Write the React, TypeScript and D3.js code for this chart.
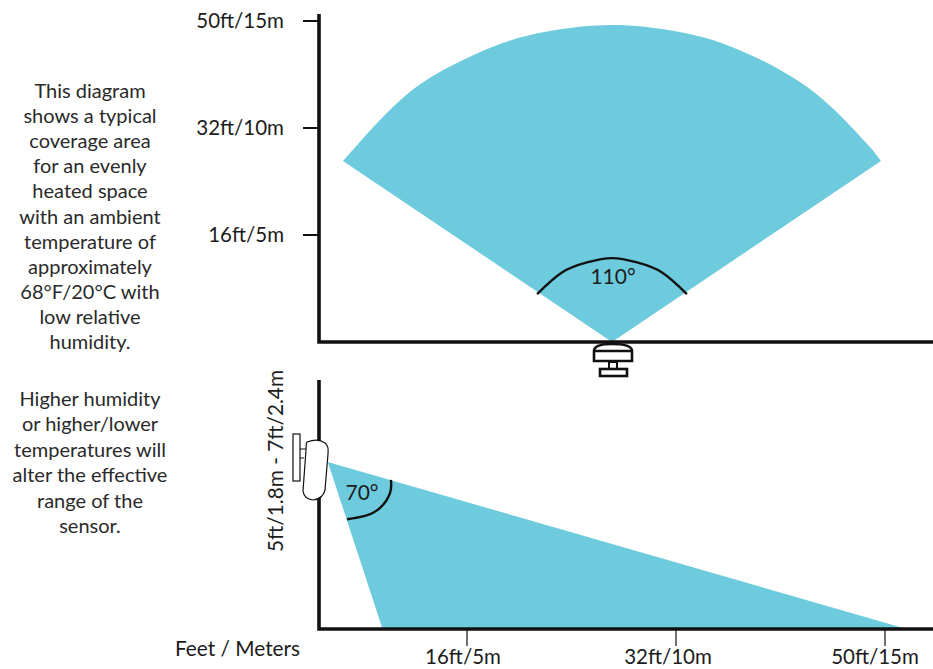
import React from "react";
import * as d3 from "d3";

const W = 933, H = 669;
const FONT = "Lato, 'Open Sans', sans-serif";
const INK = "#111111";
const TEXT = "#1c1c1c";
const FILL = "#6dcbdd";

const topTicks = [5, 10, 15];
const topTickLabels = ["16ft/5m", "32ft/10m", "50ft/15m"];
const coverageOutlineTop: [number, number][] = [
  [-12.57, 8.46], [-9.91, 11.29], [-7.57, 12.87], [-5.23, 13.93], [-2.9, 14.53], [0, 14.81],
  [2.9, 14.53], [5.23, 13.93], [7.57, 12.87], [9.91, 11.29], [12.2, 8.95],
];
const coverageCornerTop: [number, number] = [12.57, 8.46];
const topAngle = "110°";
const topArc: [number, number][] = [[-3.5, 2.24], [-2.34, 3.25], [-1.17, 3.72], [0, 3.92], [1.17, 3.72], [2.34, 3.25], [3.5, 2.24]];

const bottomTicks = [5, 10, 15];
const bottomTickLabels = ["16ft/5m", "32ft/10m", "50ft/15m"];
const bottomLabelShift = [-4, -8, -10];
const coverageSide: [number, number][] = [[1.67, 4.0], [15.52, 0], [2.98, 0]];
const sideAngle = "70°";
const sideArc: [number, number][] = [[3.18, 3.57], [3.16, 3.26], [2.92, 2.9], [2.56, 2.71], [2.13, 2.63]];
const sideHeightLabel = "5ft/1.8m - 7ft/2.4m";
const xUnitLabel = "Feet / Meters";

const noteOne = ["This diagram", "shows a typical", "coverage area", "for an evenly", "heated space", "with an ambient", "temperature of", "approximately", "68°F/20°C with", "low relative", "humidity."];
const noteTwo = ["Higher humidity", "or higher/lower", "temperatures will", "alter the effective", "range of the", "sensor."];

const xTop = d3.scaleLinear().domain([0, 15]).range([612, 612 + 321]);
const yTop = d3.scaleLinear().domain([0, 15]).range([342, 21]);
const xSide = d3.scaleLinear().domain([5, 15]).range([467, 885]);
const ySide = d3.scaleLinear().domain([0, 4]).range([629, 462]);

const lineTop = d3.line<[number, number]>().x(d => xTop(d[0])).y(d => yTop(d[1]));
const lineSide = d3.line<[number, number]>().x(d => xSide(d[0])).y(d => ySide(d[1]));

export default function App() {
  const topShape = "M" + xTop(0) + "," + yTop(0) + "L" +
    lineTop.curve(d3.curveNatural)(coverageOutlineTop)!.slice(1) +
    "L" + xTop(coverageCornerTop[0]) + "," + yTop(coverageCornerTop[1]) + "Z";
  const sideShape = d3.line<[number, number]>().x(d => xSide(d[0])).y(d => ySide(d[1]))(coverageSide)! + "Z";
  return (
    <svg width={W} height={H} viewBox={`0 0 ${W} ${H}`}
      style={{ position: "absolute", left: 0, top: 0, background: "#fff" }} fontFamily={FONT} fill={TEXT}>
      <path d={topShape} fill={FILL} />
      <path d={sideShape} fill={FILL} />

      <path d={lineTop.curve(d3.curveNatural)(topArc)!} fill="none" stroke={INK} strokeWidth={2.4} />
      <text x={613} y={284} fontSize={21} textAnchor="middle">{topAngle}</text>
      <path d={lineSide.curve(d3.curveNatural)(sideArc)!} fill="none" stroke={INK} strokeWidth={2.4} />
      <text x={362} y={500} fontSize={21} textAnchor="middle">{sideAngle}</text>

      <path d={`M319,14V342H933`} fill="none" stroke={INK} strokeWidth={3.6} />
      <path d={`M319,380V629H933`} fill="none" stroke={INK} strokeWidth={3.6} />

      {topTicks.map((t, i) => (
        <g key={t}>
          <line x1={303} x2={319} y1={yTop(t)} y2={yTop(t)} stroke={INK} strokeWidth={2} />
          <text x={284} y={yTop(t) + 7} fontSize={20.5} textAnchor="end">{topTickLabels[i]}</text>
        </g>
      ))}
      {bottomTicks.map((t, i) => (
        <g key={t}>
          <line x1={xSide(t)} x2={xSide(t)} y1={629} y2={646} stroke={INK} strokeWidth={1.2} />
          <text x={xSide(t) + bottomLabelShift[i]} y={664} fontSize={20.5} textAnchor="middle">{bottomTickLabels[i]}</text>
        </g>
      ))}
      <text x={175} y={656} fontSize={20.8}>{xUnitLabel}</text>
      <text transform="translate(283,461) rotate(-90)" fontSize={20.8} textAnchor="middle">{sideHeightLabel}</text>

      {noteOne.map((s, i) => (
        <text key={s} x={90} y={98 + i * 25.1} fontSize={20} textAnchor="middle" fill="#2a2a2a">{s}</text>
      ))}
      {noteTwo.map((s, i) => (
        <text key={s} x={90} y={406 + i * 25.4} fontSize={20} textAnchor="middle" fill="#2a2a2a">{s}</text>
      ))}

      {/* ceiling sensor */}
      <g fill="#fff" stroke={INK} strokeWidth={2.6}>
        <rect x={609} y={362} width={8} height={8} strokeWidth={2} />
        <rect x={600} y={369} width={27} height={7} />
        <path d="M594,361V351Q594,344 612,344Q632,344 632,351V361Z" />
        <line x1={594} x2={632} y1={351} y2={351} />
      </g>

      {/* wall sensor */}
      <g fill="#fff" stroke={INK} strokeWidth={1.2}>
        <rect x={293} y={434} width={7} height={47} />
        <path d="M300,449H306M300,458H304" fill="none" />
        <path d="M307,442Q318,438 325,443Q329,446 328,454L325,490Q323,499 313,500Q304,499 303,491L306,450Q306,444 307,442Z" />
      </g>
    </svg>
  );
}
